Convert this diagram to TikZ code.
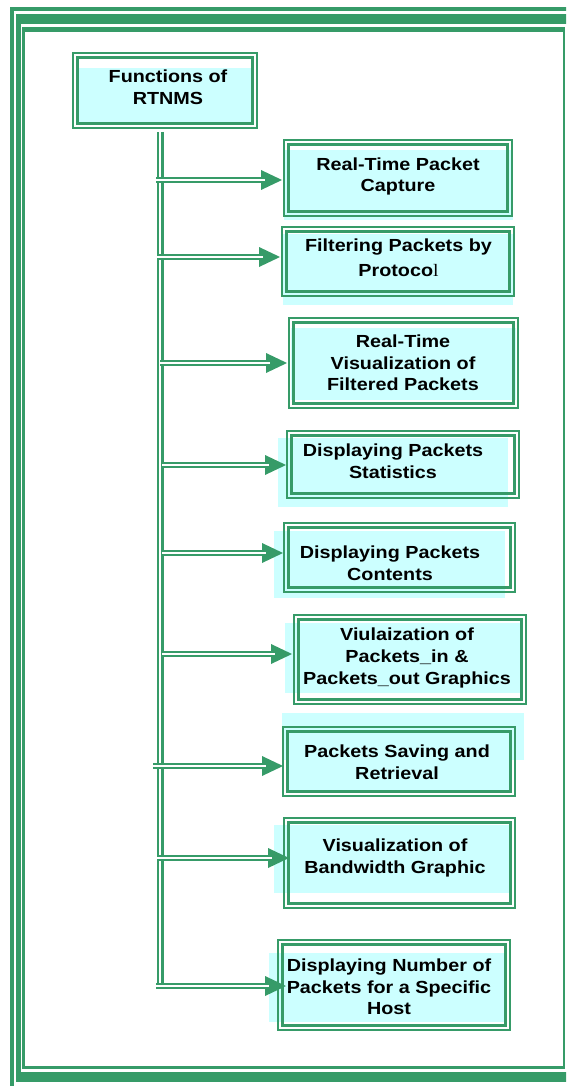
\documentclass[tikz,border=0pt]{standalone}
\usepackage{fontspec}
\newfontfamily\boxfont[FakeStretch=1.13]{Liberation Sans}
\newfontfamily\boxserif[FakeStretch=1.13]{Liberation Serif}
\usetikzlibrary{calc,fit}

\definecolor{frameg}{RGB}{54,155,104}
\definecolor{boxcyan}{RGB}{204,255,255}

\tikzset{
  fnbox/.style={rectangle, inner sep=0pt, outer sep=0pt},
  fntext/.style={align=center, inner sep=0pt, text=black,
    font=\boxfont\bfseries\fontsize{17.5}{21.7}\selectfont},
  thinrule/.style={draw=frameg, line width=2pt},
  thickrule/.style={draw=frameg, line width=3.4pt},
  link/.style={draw=frameg, double=white, line width=2.3pt, double distance=1.8pt},
  shade/.style={fill=boxcyan},
}

\begin{document}
\begin{tikzpicture}[x=1pt,y=1pt]
\useasboundingbox (0,0) rectangle (566,-1086);
\clip (0,0) rectangle (566,-1086);

% page frame: thin / thick / thin bands
\fill[frameg] (10,-7) rectangle (570,-11);
\fill[frameg] (10,-7) rectangle (14,-1090);
\fill[frameg] (16,-14) rectangle (570,-24);
\fill[frameg] (16,-14) rectangle (20.5,-1082);
\fill[frameg] (16,-1072) rectangle (570,-1082);
\fill[frameg] (22,-27) rectangle (565,-32);
\fill[frameg] (22,-27) rectangle (25,-1068.5);
\fill[frameg] (22,-1066) rectangle (565,-1068.5);
\fill[frameg] (562.5,-27) rectangle (565,-1068.5);

% cyan text-box backgrounds
\fill[shade] (76,-68) rectangle (254,-125);
\fill[shade] (284,-150) rectangle (513,-220);
\fill[shade] (283,-234) rectangle (513,-305);
\fill[shade] (291,-328) rectangle (516,-400);
\fill[shade] (278,-438) rectangle (508,-507);
\fill[shade] (274,-531) rectangle (505,-598);
\fill[shade] (285,-623) rectangle (522,-693);
\fill[shade] (282,-713) rectangle (524,-760);
\fill[shade] (286,-733) rectangle (512,-790);
\fill[shade] (274,-825) rectangle (512,-893);
\fill[shade] (269,-953) rectangle (507,-1022);

% boxes
\node[fnbox, fit={(72,-52) (258,-129)}] (b0) {};
\node[fnbox, fit={(283,-139) (513,-217)}] (b1) {};
\node[fnbox, fit={(281,-226) (515,-297)}] (b2) {};
\node[fnbox, fit={(288,-317) (519,-409)}] (b3) {};
\node[fnbox, fit={(286,-430) (520,-499)}] (b4) {};
\node[fnbox, fit={(283,-522) (516,-593)}] (b5) {};
\node[fnbox, fit={(293,-614) (527,-705)}] (b6) {};
\node[fnbox, fit={(282,-726) (516,-797)}] (b7) {};
\node[fnbox, fit={(283,-817) (516,-909)}] (b8) {};
\node[fnbox, fit={(277,-939) (511,-1031)}] (b9) {};

% thin-thick borders
\foreach \n in {b0,b1,b2,b3,b4,b5,b6,b7,b8,b9}{
  \draw[thinrule] ([shift={(1,-1)}]\n.north west) rectangle ([shift={(-1,1)}]\n.south east);
  \draw[thickrule] ([shift={(5.7,-5.7)}]\n.north west) rectangle ([shift={(-5.7,5.7)}]\n.south east);
}

% labels
\node[fntext] (t0) at (168,-87) {Functions of\\RTNMS};
\node[fntext] (t1) at (398,-176.5) {Real-Time Packet\\Capture};
\node[fntext] (t2) at (398.5,-257.5) {Filtering Packets by\\[3pt]Protoco{\boxserif\mdseries l}};
\node[fntext] (t3) at (403,-363) {Real-Time\\Visualization of\\Filtered Packets};
\node[fntext] (t4) at (393,-461) {Displaying Packets\\Statistics};
\node[fntext] (t5) at (390,-563.5) {Displaying Packets\\Contents};
\node[fntext] (t6) at (407,-658) {Viulaization of\\Packets\_in \&\\Packets\_out Graphics};
\node[fntext] (t7) at (397,-762.5) {Packets Saving and\\Retrieval};
\node[fntext] (t8) at (395,-858) {Visualization of\\Bandwidth Graphic};
\node[fntext] (t9) at (389,-987) {Displaying Number of\\Packets for a Specific\\Host};

% branch start points on the trunk
\coordinate (top) at (160.3,-132);
\coordinate (s1) at (156,-180);
\coordinate (s2) at (157,-257);
\coordinate (s3) at (160,-363);
\coordinate (s4) at (162,-465);
\coordinate (s5) at (162,-553);
\coordinate (s6) at (162,-654);
\coordinate (s7) at (153,-766);
\coordinate (s8) at (157,-858);
\coordinate (s9) at (156,-986);

% trunk
\draw[link] (top) -- ([yshift=2pt]top |- s9);

% branches with arrowheads
\foreach \s/\b/\d in {s1/b1/-1, s2/b2/-1, s3/b3/-1, s4/b4/0, s5/b5/0, s6/b6/-1, s7/b7/1, s8/b8/6, s9/b9/9}{
  \coordinate (tip) at ([xshift=\d pt]\s -| \b.west);
  \fill[frameg] (tip) -- ++(-21,10) -- ++(0,-20) -- cycle;
  \draw[link] (\s) -- ([xshift=-17pt]tip);
}
\end{tikzpicture}
\end{document}
